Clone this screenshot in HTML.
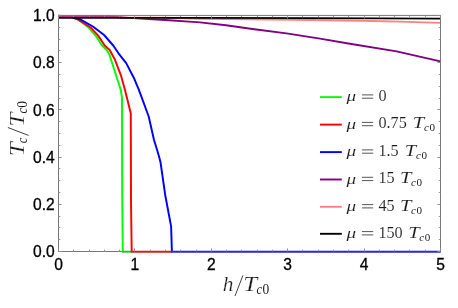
<!DOCTYPE html>
<html><head><meta charset="utf-8"><title>Tc/Tc0 vs h/Tc0</title>
<style>
html,body{margin:0;padding:0;background:#fff;}
body{width:458px;height:308px;overflow:hidden;font-family:"Liberation Sans",sans-serif;}
svg{display:block;will-change:transform}
.tl{font-family:"Liberation Sans",sans-serif;font-size:15.6px;fill:#000;stroke:#000;stroke-width:0.3px}
.g{font-family:"Liberation Serif",serif;fill:#1c1c1c;stroke:#fff;stroke-width:0.1px;vector-effect:non-scaling-stroke;paint-order:fill stroke}
.s{stroke-width:0}
.b{stroke-width:0.22px}
</style></head><body>
<svg width="458" height="308" viewBox="0 0 458 308">
<rect width="458" height="308" fill="#fff"/>
<defs><clipPath id="cp"><rect x="58.00" y="14.4" width="383.00" height="238.40"/></clipPath></defs>
<g clip-path="url(#cp)"><polyline points="58.5,15.6 70.0,16.6 77.6,19.2 88.3,27.1 96.2,36.3 101.5,44.8 106.8,50.3 109.4,54.6 114.7,71.0 120.8,90.0 122.0,97.9 122.2,195.0 122.8,251.7" fill="none" stroke="#00ff00" stroke-width="1.95" stroke-linejoin="round" stroke-linecap="butt"/><polyline points="58.5,15.6 70.0,16.6 77.9,19.5 91.0,27.8 98.2,35.6 104.7,45.5 109.7,50.0 114.7,59.2 121.2,76.2 125.0,90.0 130.8,113.6 131.0,200.0 131.7,251.7" fill="none" stroke="#ff0000" stroke-width="1.95" stroke-linejoin="round" stroke-linecap="butt"/><polyline points="58.5,15.6 70.0,16.4 79.8,19.2 92.9,26.5 104.1,35.0 113.2,45.5 118.5,53.3 126.2,63.1 134.3,78.8 138.8,89.7 148.7,116.5 154.0,140.0 157.2,150.2 159.3,157.4 160.5,162.2 165.2,195.0 171.1,226.4 171.9,251.7" fill="none" stroke="#0000ff" stroke-width="1.95" stroke-linejoin="round" stroke-linecap="butt"/><polyline points="58.5,16.0 90.0,16.1 110.0,16.5 125.0,17.6 145.0,18.9 165.0,20.0 189.0,21.6 200.0,22.4 226.0,25.3 252.4,29.0 286.5,33.4 320.0,38.6 348.4,43.5 396.6,51.4 440.5,61.4" fill="none" stroke="#800080" stroke-width="1.95" stroke-linejoin="round" stroke-linecap="butt"/><polyline points="58.5,16.1 100.0,16.2 112.0,16.6 122.0,17.6 165.0,17.8 173.0,18.0 200.0,18.7 250.0,19.3 312.0,20.0 360.0,20.7 400.0,21.6 440.5,22.9" fill="none" stroke="#ff8080" stroke-width="1.95" stroke-linejoin="round" stroke-linecap="butt"/><polyline points="58.5,16.1 100.0,16.2 112.0,16.6 122.0,17.6" fill="none" stroke="#c0308c" stroke-width="1.75" stroke-linejoin="round" stroke-linecap="butt"/><polyline points="58.5,17.9 210.0,17.9 312.0,18.0 380.0,18.3 440.5,18.7" fill="none" stroke="#000000" stroke-width="1.75" stroke-linejoin="round" stroke-linecap="butt"/></g>
<rect x="58.50" y="15.40" width="382.00" height="236.10" fill="none" stroke="#787878" stroke-width="1"/>
<polyline points="122.0,251.7 131.7,251.7" fill="none" stroke="#22c022" stroke-width="1.9" stroke-linejoin="round" stroke-linecap="butt"/>
<polyline points="130.8,251.7 172.0,251.7" fill="none" stroke="#cc2218" stroke-width="1.9" stroke-linejoin="round" stroke-linecap="butt"/>
<polyline points="171.1,251.7 440.8,251.7" fill="none" stroke="#2c28c4" stroke-width="1.9" stroke-linejoin="round" stroke-linecap="butt"/>
<path d="M58.50 251.50v-3.20M58.50 15.40v3.20M73.50 251.50v-1.80M73.50 15.40v1.80M89.50 251.50v-1.80M89.50 15.40v1.80M104.50 251.50v-1.80M104.50 15.40v1.80M119.50 251.50v-1.80M119.50 15.40v1.80M134.50 251.50v-3.20M134.50 15.40v3.20M150.50 251.50v-1.80M150.50 15.40v1.80M165.50 251.50v-1.80M165.50 15.40v1.80M180.50 251.50v-1.80M180.50 15.40v1.80M196.50 251.50v-1.80M196.50 15.40v1.80M211.50 251.50v-3.20M211.50 15.40v3.20M226.50 251.50v-1.80M226.50 15.40v1.80M241.50 251.50v-1.80M241.50 15.40v1.80M257.50 251.50v-1.80M257.50 15.40v1.80M272.50 251.50v-1.80M272.50 15.40v1.80M287.50 251.50v-3.20M287.50 15.40v3.20M302.50 251.50v-1.80M302.50 15.40v1.80M318.50 251.50v-1.80M318.50 15.40v1.80M333.50 251.50v-1.80M333.50 15.40v1.80M348.50 251.50v-1.80M348.50 15.40v1.80M364.50 251.50v-3.20M364.50 15.40v3.20M379.50 251.50v-1.80M379.50 15.40v1.80M394.50 251.50v-1.80M394.50 15.40v1.80M409.50 251.50v-1.80M409.50 15.40v1.80M425.50 251.50v-1.80M425.50 15.40v1.80M440.50 251.50v-3.20M440.50 15.40v3.20M58.50 251.50h3.20M440.50 251.50h-3.20M58.50 239.50h1.80M440.50 239.50h-1.80M58.50 227.50h1.80M440.50 227.50h-1.80M58.50 216.50h1.80M440.50 216.50h-1.80M58.50 204.50h3.20M440.50 204.50h-3.20M58.50 192.50h1.80M440.50 192.50h-1.80M58.50 180.50h1.80M440.50 180.50h-1.80M58.50 168.50h1.80M440.50 168.50h-1.80M58.50 157.50h3.20M440.50 157.50h-3.20M58.50 145.50h1.80M440.50 145.50h-1.80M58.50 133.50h1.80M440.50 133.50h-1.80M58.50 121.50h1.80M440.50 121.50h-1.80M58.50 109.50h3.20M440.50 109.50h-3.20M58.50 98.50h1.80M440.50 98.50h-1.80M58.50 86.50h1.80M440.50 86.50h-1.80M58.50 74.50h1.80M440.50 74.50h-1.80M58.50 62.50h3.20M440.50 62.50h-3.20M58.50 50.50h1.80M440.50 50.50h-1.80M58.50 39.50h1.80M440.50 39.50h-1.80M58.50 27.50h1.80M440.50 27.50h-1.80M58.50 15.50h3.20M440.50 15.50h-3.20" stroke="#8c8c8c" stroke-width="0.9" fill="none"/>
<text x="58.50" y="270.1" text-anchor="middle" class="tl">0</text>
<text x="134.90" y="270.1" text-anchor="middle" class="tl">1</text>
<text x="211.30" y="270.1" text-anchor="middle" class="tl">2</text>
<text x="287.70" y="270.1" text-anchor="middle" class="tl">3</text>
<text x="364.10" y="270.1" text-anchor="middle" class="tl">4</text>
<text x="440.50" y="270.1" text-anchor="middle" class="tl">5</text>
<text x="54.7" y="257.20" text-anchor="end" class="tl">0.0</text>
<text x="54.7" y="209.98" text-anchor="end" class="tl">0.2</text>
<text x="54.7" y="162.76" text-anchor="end" class="tl">0.4</text>
<text x="54.7" y="115.54" text-anchor="end" class="tl">0.6</text>
<text x="54.7" y="68.32" text-anchor="end" class="tl">0.8</text>
<text x="54.7" y="21.10" text-anchor="end" class="tl">1.0</text>
<line x1="320" y1="97.1" x2="341.8" y2="97.1" stroke="#00ff00" stroke-width="1.9"/>
<text class="g" font-size="15.00" font-style="italic" transform="translate(346.42,101.20) scale(1.277,1)">μ</text>
<path d="M361.9 94.90h11.3M361.9 98.20h11.3" stroke="#2b2b2b" stroke-width="0.8" fill="none"/>
<text class="g" font-size="16.2" x="378.4" y="100.90">0</text>
<line x1="320" y1="124.6" x2="341.8" y2="124.6" stroke="#ff0000" stroke-width="1.9"/>
<text class="g" font-size="15.00" font-style="italic" transform="translate(346.42,128.70) scale(1.277,1)">μ</text>
<path d="M361.9 122.40h11.3M361.9 125.70h11.3" stroke="#2b2b2b" stroke-width="0.8" fill="none"/>
<text class="g" font-size="16.2" x="378.4" y="128.40">0.75</text>
<text class="g" font-size="16.30" font-style="italic" transform="translate(412.86,128.40) scale(1.261,1)">T</text>
<text class="g s" font-size="11.30" font-style="italic" transform="translate(423.96,131.40) scale(0.968,1)">c</text>
<text class="g s" font-size="11.00" transform="translate(429.38,131.40) scale(1.008,1)">0</text>
<line x1="320" y1="152.1" x2="341.8" y2="152.1" stroke="#0000ff" stroke-width="1.9"/>
<text class="g" font-size="15.00" font-style="italic" transform="translate(346.42,156.20) scale(1.277,1)">μ</text>
<path d="M361.9 149.90h11.3M361.9 153.20h11.3" stroke="#2b2b2b" stroke-width="0.8" fill="none"/>
<text class="g" font-size="16.2" x="378.4" y="155.90">1.5</text>
<text class="g" font-size="16.30" font-style="italic" transform="translate(404.86,155.90) scale(1.261,1)">T</text>
<text class="g s" font-size="11.30" font-style="italic" transform="translate(415.96,158.90) scale(0.968,1)">c</text>
<text class="g s" font-size="11.00" transform="translate(421.38,158.90) scale(1.008,1)">0</text>
<line x1="320" y1="179.5" x2="341.8" y2="179.5" stroke="#800080" stroke-width="1.9"/>
<text class="g" font-size="15.00" font-style="italic" transform="translate(346.42,183.60) scale(1.277,1)">μ</text>
<path d="M361.9 177.30h11.3M361.9 180.60h11.3" stroke="#2b2b2b" stroke-width="0.8" fill="none"/>
<text class="g" font-size="16.2" x="378.4" y="183.30">15</text>
<text class="g" font-size="16.30" font-style="italic" transform="translate(399.96,183.30) scale(1.261,1)">T</text>
<text class="g s" font-size="11.30" font-style="italic" transform="translate(411.06,186.30) scale(0.968,1)">c</text>
<text class="g s" font-size="11.00" transform="translate(416.48,186.30) scale(1.008,1)">0</text>
<line x1="320" y1="206.8" x2="341.8" y2="206.8" stroke="#ff8080" stroke-width="1.9"/>
<text class="g" font-size="15.00" font-style="italic" transform="translate(346.42,210.90) scale(1.277,1)">μ</text>
<path d="M361.9 204.60h11.3M361.9 207.90h11.3" stroke="#2b2b2b" stroke-width="0.8" fill="none"/>
<text class="g" font-size="16.2" x="378.4" y="210.60">45</text>
<text class="g" font-size="16.30" font-style="italic" transform="translate(399.96,210.60) scale(1.261,1)">T</text>
<text class="g s" font-size="11.30" font-style="italic" transform="translate(411.06,213.60) scale(0.968,1)">c</text>
<text class="g s" font-size="11.00" transform="translate(416.48,213.60) scale(1.008,1)">0</text>
<line x1="320" y1="233.8" x2="341.8" y2="233.8" stroke="#000000" stroke-width="1.9"/>
<text class="g" font-size="15.00" font-style="italic" transform="translate(346.42,237.90) scale(1.277,1)">μ</text>
<path d="M361.9 231.60h11.3M361.9 234.90h11.3" stroke="#2b2b2b" stroke-width="0.8" fill="none"/>
<text class="g" font-size="16.2" x="378.4" y="237.60">150</text>
<text class="g" font-size="16.30" font-style="italic" transform="translate(408.16,237.60) scale(1.261,1)">T</text>
<text class="g s" font-size="11.30" font-style="italic" transform="translate(419.26,240.60) scale(0.968,1)">c</text>
<text class="g s" font-size="11.00" transform="translate(424.68,240.60) scale(1.008,1)">0</text>
<text class="g b" font-size="21.00" font-style="italic" transform="translate(222.83,291.20) scale(1.015,1)">h</text>
<path d="M235.0 296.0L242.9 275.4" stroke="#2b2b2b" stroke-width="0.9" fill="none"/>
<text class="g b" font-size="21.00" font-style="italic" transform="translate(243.36,291.20) scale(1.195,1)">T</text>
<text class="g s" font-size="14.30" font-style="italic" transform="translate(256.52,294.40) scale(0.869,1)">c</text>
<text class="g s" font-size="13.70" transform="translate(262.39,294.40) scale(0.982,1)">0</text>
<g transform="translate(23.7,154.7) rotate(-90)"><text class="g b" font-size="21.00" font-style="italic" transform="translate(-1.64,0.00) scale(1.195,1)">T</text><text class="g s" font-size="14.30" font-style="italic" transform="translate(11.52,3.00) scale(0.869,1)">c</text><path d="M19.3 4.8L27.2 -15.8" stroke="#2b2b2b" stroke-width="0.9" fill="none"/><text class="g b" font-size="21.00" font-style="italic" transform="translate(27.96,0.00) scale(1.195,1)">T</text><text class="g s" font-size="14.30" font-style="italic" transform="translate(41.12,3.00) scale(0.869,1)">c</text><text class="g s" font-size="13.70" transform="translate(46.99,3.00) scale(0.982,1)">0</text></g>
</svg>
</body></html>
